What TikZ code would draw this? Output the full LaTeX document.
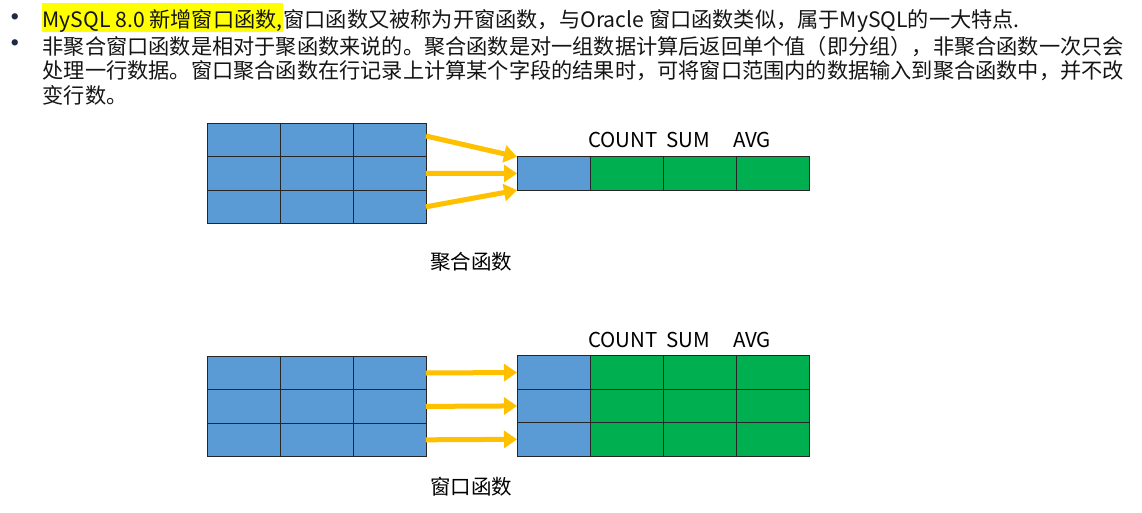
\documentclass[tikz,border=0pt]{standalone}
\usepackage{fontspec}
\setmainfont{Noto Sans CJK SC}
\usetikzlibrary{arrows.meta,calc}
\definecolor{cellblue}{HTML}{5B9BD5}
\definecolor{cellgreen}{HTML}{00B050}
\definecolor{arrowgold}{HTML}{FFC000}
\definecolor{hlyellow}{HTML}{FFFF00}
\definecolor{bodytext}{HTML}{151515}
\definecolor{bulletblue}{HTML}{1F2A44}
\tikzset{
  cell/.style={draw=black!85, line width=0.9pt, minimum width=73pt, minimum height=33.4pt, inner sep=0pt, outer sep=0pt},
  bluecell/.style={cell, fill=cellblue},
  greencell/.style={cell, fill=cellgreen},
  flow/.style={draw=arrowgold, line width=5pt, -{Triangle[length=13pt,width=17pt]}},
  body/.style={anchor=base west, inner sep=0pt, text=bodytext, font=\fontsize{21.2}{25}\selectfont},
  lbl/.style={inner sep=0pt, text=black, font=\fontsize{20.5}{24}\selectfont},
  bulletmark/.style={anchor=center, inner sep=0pt, text=bulletblue, font=\fontsize{7}{8}\selectfont}
}
\begin{document}
\begin{tikzpicture}[x=1pt,y=-1pt]
\useasboundingbox[fill=white] (0,0) rectangle (1142,512);

% ---- text ----
\node[bulletmark] (b1) at (15,17.3) {●};
\node[bulletmark] (b2) at (15,43.3) {●};
\node[body, fill=hlyellow, inner xsep=0.5pt, text height=24pt, text depth=5pt] (hl) at (41.8,27) {MySQL 8.0 新增窗口函数,};
\node[body] (t1) at (hl.base east) {窗口函数又被称为开窗函数，与Oracle 窗口函数类似，属于MySQL的一大特点.};
\node[body] (t2) at (42.5,54) {非聚合窗口函数是相对于聚函数来说的。聚合函数是对一组数据计算后返回单个值（即分组），非聚合函数一次只会};
\node[body] (t3) at (42.5,78.5) {处理一行数据。窗口聚合函数在行记录上计算某个字段的结果时，可将窗口范围内的数据输入到聚合函数中，并不改};
\node[body] (t4) at (42.5,103) {变行数。};

% ---- top diagram: aggregate ----
\foreach \i in {1,2,3} {
  \foreach \j in {1,2,3} {
    \node[bluecell] (a-\i-\j) at ({243.5+73*(\j-1)},{140+33.4*(\i-1)}) {};
  }
}
\node[bluecell]  (r-1) at (553.5,173.5) {};
\node[greencell] (r-2) at (626.5,173.5) {};
\node[greencell] (r-3) at (699.5,173.5) {};
\node[greencell] (r-4) at (772.5,173.5) {};

\draw[flow] ($(a-1-3.east)+(0,-4)$) -- (r-1.north west);
\draw[flow] (a-2-3.east) -- (r-1.west);
\draw[flow] (a-3-3.east) -- (r-1.south west);

\node[lbl, anchor=base] (ca) at (623,147) {COUNT};
\node[lbl, anchor=base] (sa) at (688,147) {SUM};
\node[lbl, anchor=base] (va) at (752,147) {AVG};
\node[lbl] (capA) at (471,262) {聚合函数};

% ---- bottom diagram: window ----
\foreach \i in {1,2,3} {
  \foreach \j in {1,2,3} {
    \node[bluecell] (b-\i-\j) at ({243.5+73*(\j-1)},{373+33.4*(\i-1)}) {};
  }
  \node[bluecell]  (c-\i-1) at (553.5,{372.5+33.4*(\i-1)}) {};
  \node[greencell] (c-\i-2) at (626.5,{372.5+33.4*(\i-1)}) {};
  \node[greencell] (c-\i-3) at (699.5,{372.5+33.4*(\i-1)}) {};
  \node[greencell] (c-\i-4) at (772.5,{372.5+33.4*(\i-1)}) {};
}
\foreach \i in {1,2,3} {
  \draw[flow] (b-\i-3.east) -- (c-\i-1.west);
}

\node[lbl, anchor=base] (cb) at (623,347) {COUNT};
\node[lbl, anchor=base] (sb) at (688,347) {SUM};
\node[lbl, anchor=base] (vb) at (752,347) {AVG};
\node[lbl] (capB) at (471,487) {窗口函数};
\end{tikzpicture}
\end{document}
